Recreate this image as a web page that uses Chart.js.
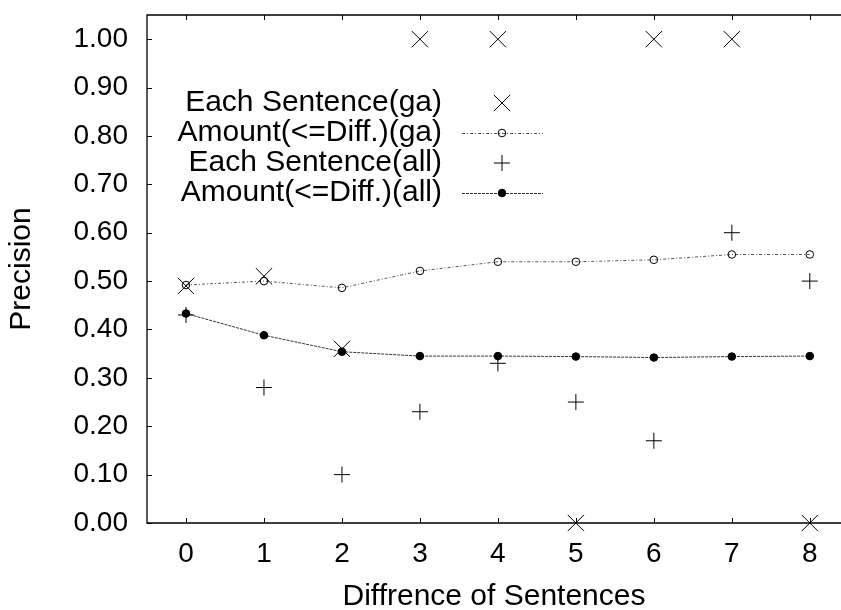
<!DOCTYPE html>
<html>
<head>
<meta charset="utf-8">
<script src="https://cdn.jsdelivr.net/npm/chart.js@4.4.1/dist/chart.umd.min.js"></script>
<style>
html, body { margin: 0; padding: 0; overflow: hidden; background: #fff; }
canvas { display: block; }
</style>
</head>
<body>
<canvas id="chart" width="841" height="610"></canvas>
<script>
// x values (difference of sentences)
const diffs = [0, 1, 2, 3, 4, 5, 6, 7, 8];
// y tick values
const yTickValues = [0, 0.1, 0.2, 0.3, 0.4, 0.5, 0.6, 0.7, 0.8, 0.9, 1.0];
// series
const eachGa = [0.49, 0.51, 0.36, 1.00, 1.00, 0.00, 1.00, 1.00, 0.00];
const amountGa = [0.492, 0.50, 0.486, 0.521, 0.540, 0.540, 0.544, 0.555, 0.555];
const eachAll = [0.43, 0.28, 0.10, 0.23, 0.33, 0.25, 0.17, 0.60, 0.50];
const amountAll = [0.433, 0.388, 0.354, 0.345, 0.345, 0.344, 0.342, 0.344, 0.345];
const seriesNames = ['Each Sentence(ga)', 'Amount(<=Diff.)(ga)', 'Each Sentence(all)', 'Amount(<=Diff.)(all)'];

const FONT = '"Liberation Sans", Arial, Helvetica, sans-serif';

function toPoints(values) {
    return diffs.map((d, i) => ({ x: d, y: values[i] }));
}

function noPadding(scale) {
    scale.paddingTop = 0;
    scale.paddingBottom = 0;
    scale.paddingLeft = 0;
    scale.paddingRight = 0;
}

// gnuplot style frame with inward ticks (the right side is cut off in the original)
const framePlugin = {
    id: 'frame',
    beforeDatasetsDraw(chart) {
        const ctx = chart.ctx;
        const a = chart.chartArea;
        const xs = chart.scales.x, ys = chart.scales.y;
        ctx.save();
        ctx.strokeStyle = '#000';
        ctx.lineWidth = 1.3;
        ctx.beginPath();
        ctx.moveTo(a.right + 5, a.top); ctx.lineTo(a.left, a.top);
        ctx.lineTo(a.left, a.bottom); ctx.lineTo(a.right + 5, a.bottom);
        ctx.stroke();
        ctx.lineWidth = 1;
        ctx.beginPath();
        xs.ticks.forEach(t => {
            const px = Math.round(xs.getPixelForValue(t.value)) + 0.5;
            ctx.moveTo(px, a.bottom); ctx.lineTo(px, a.bottom - 5);
            ctx.moveTo(px, a.top); ctx.lineTo(px, a.top + 5);
        });
        ys.ticks.forEach(t => {
            const py = Math.round(ys.getPixelForValue(t.value)) + 0.5;
            ctx.moveTo(a.left, py); ctx.lineTo(a.left + 5, py);
        });
        ctx.stroke();
        ctx.restore();
    }
};

function drawMarker(ctx, style, r, x, y, fill) {
    ctx.beginPath();
    if (style === 'crossRot') {
        const d = r * Math.SQRT1_2;
        ctx.moveTo(x - d, y - d); ctx.lineTo(x + d, y + d);
        ctx.moveTo(x + d, y - d); ctx.lineTo(x - d, y + d);
        ctx.stroke();
    } else if (style === 'cross') {
        ctx.moveTo(x - r, y); ctx.lineTo(x + r, y);
        ctx.moveTo(x, y - r); ctx.lineTo(x, y + r);
        ctx.stroke();
    } else {
        ctx.arc(x, y, r, 0, Math.PI * 2);
        if (fill && fill !== 'transparent') { ctx.fillStyle = fill; ctx.fill(); }
        ctx.stroke();
    }
}

// key drawn inside the plot, text right aligned, sample on the right
const keyPlugin = {
    id: 'key',
    afterDatasetsDraw(chart) {
        const ctx = chart.ctx;
        const textRight = 442, sampleL = 462, sampleR = 543, markX = 502;
        const rows = [103, 133, 163, 193];
        ctx.save();
        ctx.font = '30px ' + FONT;
        ctx.textAlign = 'right';
        ctx.textBaseline = 'middle';
        chart.data.datasets.forEach((ds, i) => {
            const y = rows[i];
            ctx.fillStyle = '#000';
            ctx.fillText(ds.label, textRight, y);
            if (ds.showLine) {
                ctx.save();
                ctx.strokeStyle = ds.borderColor;
                ctx.lineWidth = ds.borderWidth;
                ctx.setLineDash(ds.borderDash);
                ctx.beginPath();
                ctx.moveTo(sampleL, y + 0.5); ctx.lineTo(sampleR, y + 0.5);
                ctx.stroke();
                ctx.restore();
            }
            ctx.strokeStyle = ds.pointBorderColor;
            ctx.lineWidth = 1;
            ctx.setLineDash([]);
            drawMarker(ctx, ds.pointStyle, ds.pointRadius, markX, y, ds.pointBackgroundColor);
        });
        ctx.restore();
    }
};

new Chart(document.getElementById('chart'), {
    type: 'scatter',
    data: {
        datasets: [{
            label: seriesNames[0],
            data: toPoints(eachGa),
            showLine: false,
            clip: false,
            pointStyle: 'crossRot',
            pointRadius: 11.5,
            pointBorderWidth: 1,
            pointBorderColor: '#000',
            pointBackgroundColor: 'transparent',
            borderColor: '#000'
        }, {
            label: seriesNames[1],
            data: toPoints(amountGa),
            showLine: true,
            clip: false,
            borderColor: '#555',
            borderWidth: 1,
            borderDash: [3, 2, 1, 2],
            pointStyle: 'circle',
            pointRadius: 3.8,
            pointBorderWidth: 1,
            pointBorderColor: '#000',
            pointBackgroundColor: 'transparent'
        }, {
            label: seriesNames[2],
            data: toPoints(eachAll),
            showLine: false,
            clip: false,
            pointStyle: 'cross',
            pointRadius: 8,
            pointBorderWidth: 1,
            pointBorderColor: '#000',
            pointBackgroundColor: 'transparent',
            borderColor: '#000'
        }, {
            label: seriesNames[3],
            data: toPoints(amountAll),
            showLine: true,
            clip: false,
            borderColor: '#333',
            borderWidth: 1,
            borderDash: [3, 1],
            pointStyle: 'circle',
            pointRadius: 3.8,
            pointBorderWidth: 1,
            pointBorderColor: '#000',
            pointBackgroundColor: '#000'
        }]
    },
    options: {
        responsive: false,
        devicePixelRatio: 1,
        animation: false,
        events: [],
        layout: { autoPadding: false, padding: { top: 15, right: 0, left: 0, bottom: 0 } },
        plugins: {
            legend: { display: false },
            tooltip: { enabled: false }
        },
        scales: {
            x: {
                type: 'linear',
                min: -0.5,
                max: 8.4,
                afterBuildTicks(scale) { scale.ticks = diffs.map(v => ({ value: v })); },
                afterFit(scale) { scale.height = 87; noPadding(scale); },
                grid: { display: false, drawTicks: false },
                border: { display: false },
                ticks: {
                    padding: 14,
                    color: '#000',
                    font: { family: FONT, size: 28 },
                    callback: v => String(v)
                },
                title: {
                    display: true,
                    text: 'Diffrence of Sentences',
                    color: '#000',
                    font: { family: FONT, size: 30, lineHeight: 1 },
                    padding: { top: 0, bottom: -2 }
                }
            },
            y: {
                min: 0,
                max: 1.05,
                afterBuildTicks(scale) { scale.ticks = yTickValues.map(v => ({ value: v })); },
                afterFit(scale) { scale.width = 147; noPadding(scale); },
                grid: { display: false, drawTicks: false },
                border: { display: false },
                ticks: {
                    padding: 19,
                    color: '#000',
                    font: { family: FONT, size: 28 },
                    callback: v => v.toFixed(2)
                },
                title: {
                    display: true,
                    text: 'Precision',
                    color: '#000',
                    font: { family: FONT, size: 30, lineHeight: 1.2 },
                    padding: { top: 4, bottom: 0 }
                }
            }
        }
    },
    plugins: [framePlugin, keyPlugin]
});
</script>
</body>
</html>
